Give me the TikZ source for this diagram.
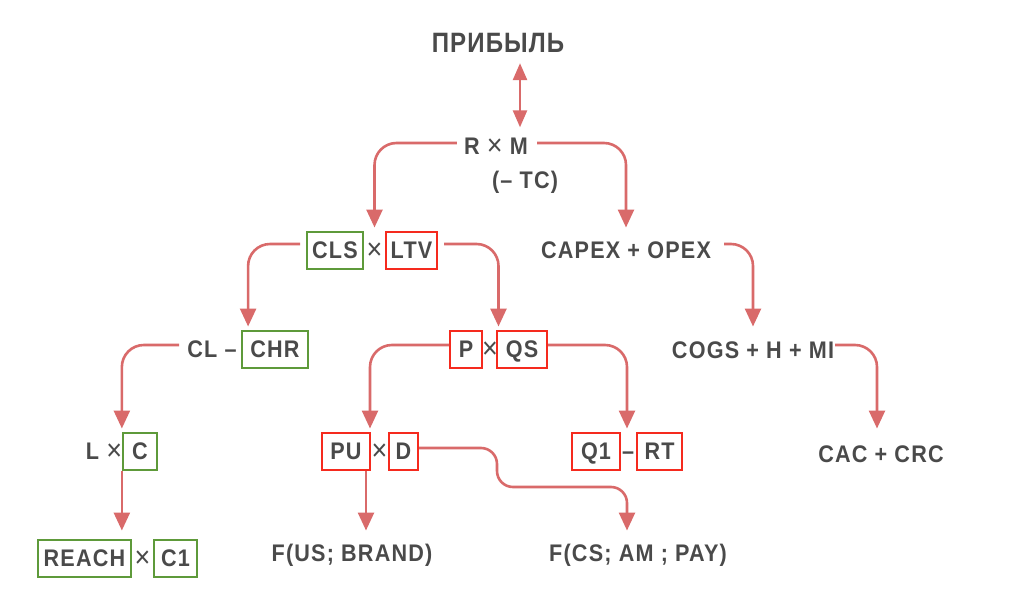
\documentclass[tikz,border=0pt]{standalone}
\usepackage{fontspec}
\setmainfont{Liberation Sans}
\newfontfamily\fnt{Liberation Sans}[LetterSpace=5,FakeStretch=0.9]
\newfontfamily\bigfnt{Liberation Sans}[LetterSpace=4,FakeStretch=0.86]
\newcommand\tmul{{\mdseries\fontsize{30}{30}\selectfont\raisebox{-1pt}{×}}}
\usetikzlibrary{arrows.meta,calc}
\definecolor{txtc}{HTML}{4A4A4A}
\definecolor{arrc}{HTML}{D96A6A}
\definecolor{boxg}{HTML}{5E9A3A}
\definecolor{boxr}{HTML}{F52A1E}
\tikzset{
  t/.style={font=\fnt\bfseries\fontsize{24}{28}\selectfont, text=txtc, text height=17pt, text depth=0pt, inner sep=0pt},
  big/.style={font=\bigfnt\bfseries\fontsize{28}{32}\selectfont, text=txtc, text height=20pt, text depth=0pt, inner sep=0pt},
  gbox/.style={t, draw=boxg, line width=2pt, inner xsep=3pt, minimum height=37pt},
  rbox/.style={t, draw=boxr, line width=2pt, inner xsep=3pt, minimum height=37pt},
  conn/.style={draw=arrc, line width=2.6pt, rounded corners=22pt, shorten >=3pt, -{Triangle[length=18pt,width=16pt]}},
  dbl/.style={draw=arrc, line width=2.6pt, {Triangle[length=17pt,width=14pt]}-{Triangle[length=17pt,width=14pt]}},
}
\begin{document}
\begin{tikzpicture}[x=1pt,y=-1pt]
\useasboundingbox[fill=white] (0,0) rectangle (1024,596);
% nodes
\node[big] (prib) at (498,43) {ПРИБЫЛЬ};
\node[t] (rm) at (496,146) {R \tmul{} M};
\node[t] (tc) at (525,180) {(– TC)};
% row 2
\node[gbox, minimum width=56] (cls) at (335,250) {CLS};
\node[t] (x2) at (374.5,250) {\tmul};
\node[rbox, minimum width=51] (ltv) at (411.5,250) {LTV};
\node[t] (capex) at (626,250) {CAPEX + OPEX};
% row 3
\node[t] (cl) at (212,349) {CL –};
\node[gbox, minimum width=66] (chr) at (275,349) {CHR};
\node[rbox, minimum width=32] (p) at (466,349) {P};
\node[t] (x3) at (490,349) {\tmul};
\node[rbox, minimum width=50] (qs) at (522,349) {QS};
\node[t] (cogs) at (753,350) {COGS + H + MI};
% row 4
\node[t] (l) at (104,451) {L \tmul};
\node[gbox, minimum width=34] (c) at (140,451) {C};
\node[rbox, minimum width=48] (pu) at (346,451) {PU};
\node[t] (x4) at (379.5,451) {\tmul};
\node[rbox, minimum width=29] (d) at (403.5,451) {D};
\node[rbox, minimum width=48] (q1) at (596,451) {Q1};
\node[t] (dash4) at (628,451) {–};
\node[rbox, minimum width=45] (rt) at (659.5,451) {RT};
\node[t] (cac) at (881,454) {CAC + CRC};
% row 5
\node[gbox, minimum width=93] (reach) at (84.5,558) {REACH};
\node[t] (x5) at (142.5,558) {\tmul};
\node[gbox, minimum width=43] (c1) at (175.5,558) {C1};
\node[t] (fus) at (352,553) {F(US; BRAND)};
\node[t] (fcs) at (638,553) {F(CS; AM ; PAY)};
% helper coordinates
\coordinate (da) at (520,0);
\coordinate (g3a) at ($(cl.west)!.5!(chr.east)$);
\coordinate (g3b) at ($(p.west)!.5!(qs.east)$);
\coordinate (g4a) at ($(l.west)!.5!(c.east)$);
\coordinate (g4b) at ($(pu.west)!.5!(d.east)$);
\coordinate (g4c) at ($(q1.west)!.5!(rt.east)$);
\coordinate (pub) at ($(pu.south east)+(-5,0)$);
\coordinate (dm) at (497,487);
\coordinate (dt) at (627,0);
% connectors
\draw[dbl, shorten <=10pt, shorten >=10pt] (da |- prib.south) -- (da |- rm.north);
\draw[conn] ([xshift=-7pt,yshift=3pt]rm.west) -| (x2 |- cls.north);
\draw[conn] ([xshift=9pt,yshift=3pt]rm.east) -| (capex |- cls.north);
\draw[conn] ([xshift=-6pt,yshift=6pt]cls.west) -| (g3a |- chr.north);
\draw[conn] ([xshift=6pt,yshift=6pt]ltv.east) -| (g3b |- p.north);
\draw[conn] ([xshift=13pt,yshift=6pt]capex.east) -| (cogs |- p.north);
\draw[conn] ([xshift=-8pt,yshift=4pt]cl.west) -| (g4a |- c.north);
\draw[conn] ([yshift=4pt]p.west) -| (g4b |- pu.north);
\draw[conn] ([yshift=4pt]qs.east) -| (g4c |- q1.north);
\draw[conn] ([xshift=1pt,yshift=5pt]cogs.east) -| ([xshift=-4pt]cac |- q1.north);
\draw[conn, shorten >=8pt] (g4a |- c.south) -- (g4a |- reach.north);
\draw[conn, shorten >=8pt] (pub) -- (pub |- reach.north);
\draw[conn, rounded corners=16pt, shorten >=8pt] ([yshift=3pt]d.east) -| (dm) -| (dt |- reach.north);
\end{tikzpicture}
\end{document}
